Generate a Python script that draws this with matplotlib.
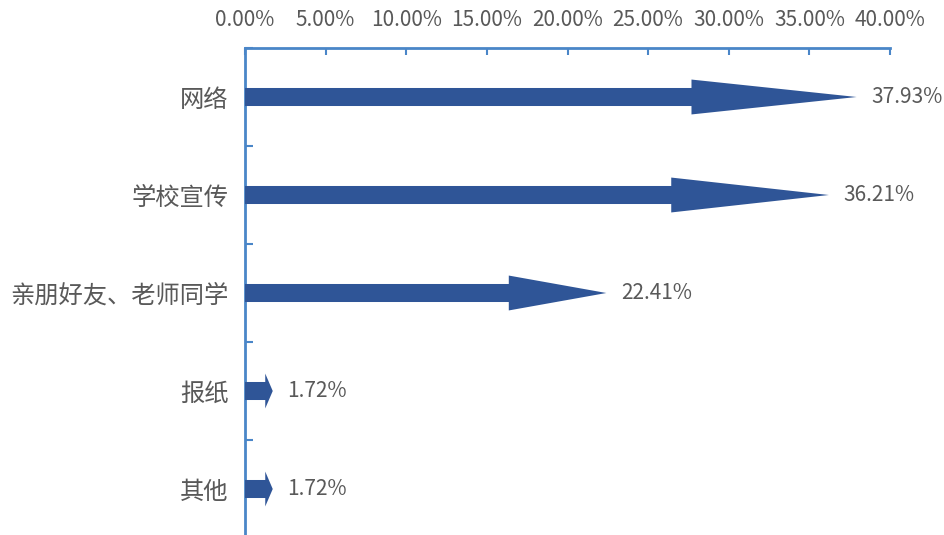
import matplotlib
matplotlib.use('Agg')
import matplotlib.pyplot as plt
import numpy as np

categories = ["网络", "学校宣传", "亲朋好友、老师同学", "报纸", "其他"]
values = [37.93, 36.21, 22.41, 1.72, 1.72]
xticks = [0, 5, 10, 15, 20, 25, 30, 35, 40]

plt.rcParams['font.family'] = ['Noto Sans CJK SC', 'DejaVu Sans']

ARROW_COLOR = "#2F5597"
AXIS_COLOR = "#4A86C8"
TEXT_COLOR = "#595959"

fig = plt.figure(figsize=(9.45, 5.35), dpi=100)
# axes box: x 245..890 px, y 48..538 px (bottom slightly clipped)
ax = fig.add_axes([245 / 945, (535 - 538) / 535, 645 / 945, 490 / 535])

n = len(categories)
ax.set_xlim(0, 40)
ax.set_ylim(n - 0.5, -0.5)

shaft = 0.092
head = 0.178
head_frac = 0.27
for i, v in enumerate(values):
    hx = v * (1 - head_frac)
    xs = [0, hx, hx, v, hx, hx, 0]
    ys = [i - shaft, i - shaft, i - head, i, i + head, i + shaft, i + shaft]
    ax.fill(xs, ys, color=ARROW_COLOR, lw=0, zorder=3)
    ax.text(v + 0.9, i, f"{v:.2f}%", va="center", ha="left",
            fontsize=15, color=TEXT_COLOR)

ax.xaxis.tick_top()
ax.set_xticks(xticks)
ax.set_xticklabels([f"{t:.2f}%" for t in xticks])
ax.tick_params(axis="x", direction="in", length=5, width=1.5, color=AXIS_COLOR,
               labelsize=15, labelcolor=TEXT_COLOR, pad=12)

ax.set_yticks(np.arange(n + 1) - 0.5)
ax.set_yticklabels([])
ax.set_yticks(np.arange(n), minor=True)
ax.set_yticklabels(categories, minor=True)
ax.tick_params(axis="y", which="major", direction="in", length=6, width=1.5, color=AXIS_COLOR)
ax.tick_params(axis="y", which="minor", length=0, labelsize=17.5, labelcolor=TEXT_COLOR, pad=12)

for side in ["right", "bottom"]:
    ax.spines[side].set_visible(False)
for side in ["left", "top"]:
    ax.spines[side].set_color(AXIS_COLOR)
    ax.spines[side].set_linewidth(2)

fig.savefig("out.png", dpi=100)
plt.close()
